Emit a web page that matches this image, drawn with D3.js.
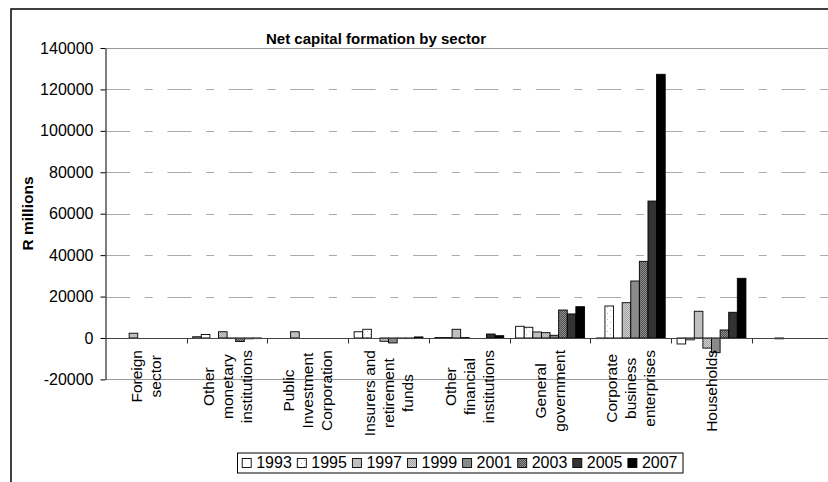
<!DOCTYPE html>
<html><head><meta charset="utf-8">
<script src="https://cdn.jsdelivr.net/npm/d3@7"></script>
<style>body{margin:0;background:#fff}svg{display:block;font-family:"Liberation Sans",Arial,sans-serif}</style>
</head><body><svg id="c" width="828" height="482"></svg>
<script>
// ---------- DATA ----------
const categories = ["Foreign sector","Other monetary institutions","Public Investment Corporation",
  "Insurers and retirement funds","Other financial institutions","General government",
  "Corporate business enterprises","Households",""];
const categoryLines = [["Foreign","sector"],["Other","monetary","institutions"],["Public","Investment","Corporation"],
  ["Insurers and","retirement","funds"],["Other","financial","institutions"],["General","government"],
  ["Corporate","business","enterprises"],["Households"],[]];
const years = ["1993","1995","1997","1999","2001","2003","2005","2007"];
const v1993 = [0, 600, 0, 3000, 200, 5650, -300, -2900, 0];
const v1995 = [0, 1700, 0, 4200, 200, 5170, 15450, -900, 0];
const v1997 = [2300, 0, 3000, 0, 4200, 2900, -200, 12900, -400];
const v1999 = [0, 3000, 0, -1600, 200, 2560, 17040, -4900, 0];
const v2001 = [0, -300, 0, -2400, 0, 1300, 27500, -7100, 0];
const v2003 = [0, -1700, 0, -300, 0, 13500, 37000, 3860, 0];
const v2005 = [0, -400, 0, -300, 1900, 11600, 66100, 12400, 0];
const v2007 = [0, -300, 0, 500, 1100, 15100, 127300, 28800, 0];
const seriesValues = [v1993, v1995, v1997, v1999, v2001, v2003, v2005, v2007];
const yTicks = [-20000, 0, 20000, 40000, 60000, 80000, 100000, 120000, 140000];
const titleText = "Net capital formation by sector";
const yLabel = "R millions";

// ---------- SETUP ----------
const svg = d3.select("#c");
const defs = svg.append("defs");
function pat(id, size, bg, dots, dotColor, r) {
  const p = defs.append("pattern").attr("id", id).attr("patternUnits", "userSpaceOnUse")
    .attr("width", size).attr("height", size);
  p.append("rect").attr("width", size).attr("height", size).attr("fill", bg);
  dots.forEach(([dx, dy]) => p.append("rect").attr("x", dx).attr("y", dy).attr("width", r).attr("height", r).attr("fill", dotColor));
}
pat("p1995", 6, "#ffffff", [[1,1],[4,4]], "#b8b8b8", 1);
pat("p1999", 2, "#d0d0d0", [[0,0],[1,1]], "#a2a2a2", 1);
pat("p2003", 2, "#505050", [[0,0],[1,1]], "#8e8e8e", 1);
const fills = ["#ffffff","url(#p1995)","#c0c0c0","url(#p1999)","#8a8a8a","url(#p2003)","#333333","#000000"];

// outer chart border
svg.append("rect").attr("x", 11).attr("y", 9).attr("width", 1000).attr("height", 800)
  .attr("fill", "none").attr("stroke", "#000").attr("stroke-width", 1.5);

const x0 = d3.scaleBand().domain(d3.range(categories.length)).range([106, 832.6]).paddingInner(0).paddingOuter(0);
const x1 = d3.scaleBand().domain(years).range([0, x0.bandwidth()]).paddingInner(0).paddingOuter(0.69);
const y = d3.scaleLinear().domain([-20000, 140000]).range([379.4, 48]);
const xL = x0.range()[0], xR = x0.range()[1];

// gridlines
const g = svg.append("g");
yTicks.forEach(t => {
  const solid = (t === 140000 || t === -20000);
  if (t === 0) return;
  g.append("line").attr("x1", xL).attr("x2", xR).attr("y1", Math.round(y(t)) + 0.5).attr("y2", Math.round(y(t)) + 0.5)
    .attr("stroke", solid ? "#999" : "#aaa").attr("stroke-width", 1.2)
    .attr("stroke-dasharray", solid ? null : "24,14.7,8,14.7");
});

// bars
const bars = svg.append("g").attr("stroke", "#000").attr("stroke-width", 0.9);
seriesValues.forEach((vals, j) => {
  bars.selectAll(null).data(vals).enter().append("rect")
    .attr("x", (d, i) => x0(i) + x1(years[j]))
    .attr("width", x1.bandwidth())
    .attr("y", d => Math.min(y(d), y(0)))
    .attr("height", d => Math.abs(y(d) - y(0)))
    .attr("fill", fills[j]);
});

// x axis line and ticks
const y0 = Math.round(y(0)) + 0.5;
svg.append("line").attr("x1", xL).attr("x2", xR).attr("y1", y0).attr("y2", y0).attr("stroke", "#444").attr("stroke-width", 1.2);
d3.range(1, categories.length + 1).forEach(i => {
  const xx = Math.round(xL + i * x0.step()) + 0.5;
  svg.append("line").attr("x1", xx).attr("x2", xx).attr("y1", y0).attr("y2", y0 + 5).attr("stroke", "#333");
});

// y axis
const ya = svg.append("g").attr("transform", `translate(${xL - 0.5},0)`)
  .call(d3.axisLeft(y).tickValues(yTicks).tickSize(5).tickSizeOuter(0).tickPadding(7).tickFormat(d => String(d)));
ya.selectAll("text").attr("font-size", 16).attr("fill", "#000").attr("font-family", '"Liberation Sans",Arial,sans-serif');
ya.select(".domain").attr("stroke", "#000");
ya.selectAll(".tick line").attr("stroke", "#000");

// category labels
const lineH = 19;
const labelTop = 350;
categoryLines.forEach((lines, i) => {
  if (!lines.length) return;
  const cx = x0(i) + x0.bandwidth() / 2;
  const lg = svg.append("g").attr("transform", `translate(${cx},0) rotate(-90)`);
  const texts = lines.map((ln, k) => lg.append("text").text(ln)
    .attr("font-size", 15.5).attr("text-anchor", "middle")
    .attr("y", (k - (lines.length - 1) / 2) * lineH + 5.5));
  const maxLen = d3.max(texts, t => t.node().getComputedTextLength());
  texts.forEach(t => t.attr("x", -(labelTop + maxLen / 2)));
});

// title
svg.append("text").attr("x", 376).attr("y", 44).attr("text-anchor", "middle")
  .attr("font-size", 15).attr("font-weight", "bold").text(titleText);

// y label
svg.append("text").attr("transform", "translate(32.5,213.5) rotate(-90)").attr("text-anchor", "middle")
  .attr("font-size", 15.5).attr("font-weight", "bold").text(yLabel);

// legend
const legStep = 55.1, legX = 242.2, legY = 458.5;
svg.append("rect").attr("x", 237.5).attr("y", 453).attr("width", 445.5)
  .attr("height", 20).attr("fill", "#fff").attr("stroke", "#000");
years.forEach((yr, j) => {
  svg.append("rect").attr("x", legX + j * legStep).attr("y", legY).attr("width", 9).attr("height", 9)
    .attr("fill", fills[j]).attr("stroke", "#000").attr("stroke-width", 0.9);
  svg.append("text").attr("x", legX + j * legStep + 14).attr("y", legY + 9).attr("font-size", 16).text(yr);
});
</script></body></html>
